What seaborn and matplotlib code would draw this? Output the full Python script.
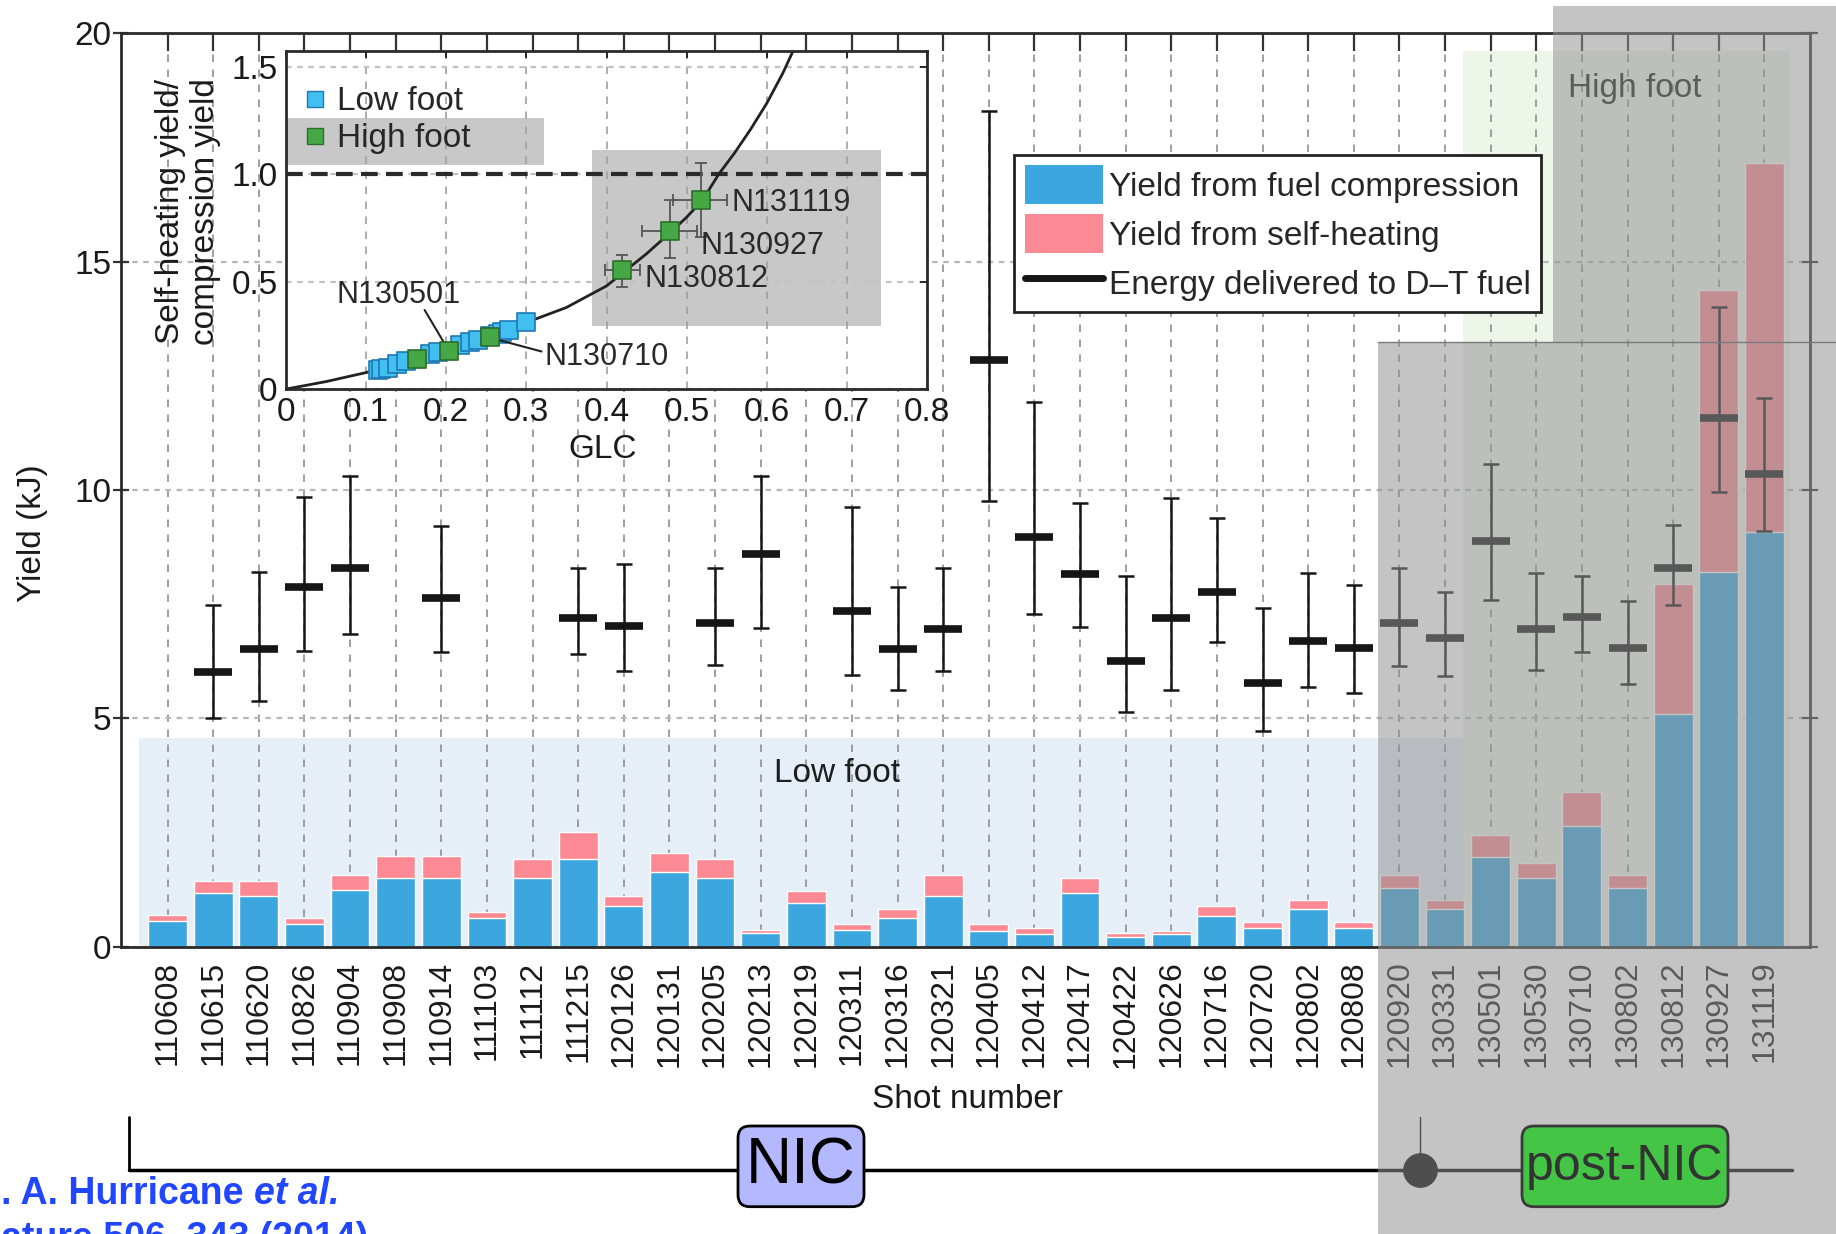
import numpy as np
import pandas as pd
import matplotlib
matplotlib.use("Agg")
import matplotlib.pyplot as plt
import seaborn as sns
from matplotlib.patches import Rectangle, Polygon, FancyBboxPatch, Patch
from matplotlib.lines import Line2D
from matplotlib.transforms import IdentityTransform

# ---------------- data ----------------
shots = ["110608", "110615", "110620", "110826", "110904", "110908", "110914",
         "111103", "111112", "111215", "120126", "120131", "120205", "120213",
         "120219", "120311", "120316", "120321", "120405", "120412", "120417",
         "120422", "120626", "120716", "120720", "120802", "120808", "120920",
         "130331", "130501", "130530", "130710", "130802", "130812", "130927",
         "131119"]

# yield split (kJ)
compression_yield = [0.56, 1.17, 1.10, 0.50, 1.24, 1.50, 1.50, 0.62, 1.50, 1.91,
                     0.90, 1.64, 1.50, 0.29, 0.96, 0.37, 0.62, 1.10, 0.35, 0.28,
                     1.17, 0.21, 0.28, 0.68, 0.42, 0.82, 0.42, 1.29, 0.82, 1.97,
                     1.50, 2.65, 1.29, 5.09, 8.21, 9.08]
self_heating_yield = [0.13, 0.27, 0.34, 0.12, 0.33, 0.49, 0.49, 0.13, 0.41, 0.61,
                      0.20, 0.41, 0.41, 0.08, 0.27, 0.13, 0.20, 0.47, 0.14, 0.14,
                      0.34, 0.08, 0.07, 0.21, 0.13, 0.20, 0.13, 0.28, 0.20, 0.48,
                      0.34, 0.74, 0.28, 2.85, 6.17, 8.07]

# energy delivered to the D-T fuel (kJ) with its uncertainty range
nan = float("nan")
energy_dt = [nan, 6.02, 6.52, 7.87, 8.29, nan, 7.63, nan, nan, 7.20,
             7.02, nan, 7.08, 8.60, nan, 7.36, 6.52, 6.95, 12.85, 8.98,
             8.15, 6.26, 7.20, 7.76, 5.77, 6.70, 6.53, 7.08, 6.77, 8.89,
             6.96, 7.23, 6.53, 8.29, 11.58, 10.34]
energy_low = [nan, 5.00, 5.38, 6.47, 6.84, nan, 6.45, nan, nan, 6.40,
              6.04, nan, 6.17, 6.97, nan, 5.95, 5.62, 6.04, 9.76, 7.28,
              7.01, 5.13, 5.62, 6.67, 4.72, 5.68, 5.55, 6.15, 5.93, 7.59,
              6.06, 6.46, 5.75, 7.48, 9.95, 9.10]
energy_high = [nan, 7.48, 8.20, 9.85, 10.31, nan, 9.21, nan, nan, 8.29,
               8.37, nan, 8.29, 10.31, nan, 9.63, 7.87, 8.29, 18.30, 11.92,
               9.71, 8.12, 9.82, 9.38, 7.41, 8.19, 7.92, 8.29, 7.77, 10.57,
               8.19, 8.12, 7.58, 9.23, 14.00, 12.01]

# inset: self-heating / compression yield versus GLC
glc_model = [0.0, 0.05, 0.10, 0.15, 0.20, 0.25, 0.30, 0.35, 0.40, 0.42,
             0.45, 0.48, 0.50, 0.52, 0.54, 0.56, 0.58, 0.60, 0.62, 0.633]
ratio_model = [0.0, 0.035, 0.077, 0.13, 0.185, 0.24, 0.31, 0.38, 0.48, 0.54,
               0.63, 0.73, 0.80, 0.88, 1.00, 1.10, 1.21, 1.33, 1.47, 1.575]
low_foot_glc = [0.115, 0.119, 0.127, 0.138, 0.150, 0.180, 0.190, 0.217,
                0.230, 0.240, 0.255, 0.265, 0.270, 0.278, 0.300]
low_foot_ratio = [0.088, 0.093, 0.100, 0.116, 0.130, 0.163, 0.175, 0.203,
                  0.217, 0.228, 0.246, 0.258, 0.265, 0.275, 0.311]
high_foot_names = ["", "N130501", "N130710", "N130812", "N130927", "N131119"]
high_foot_glc = [0.163, 0.204, 0.255, 0.419, 0.479, 0.518]
high_foot_ratio = [0.140, 0.179, 0.241, 0.552, 0.734, 0.879]
# uncertainty ranges for N130812, N130927, N131119
hf_glc_lo = [0.398, 0.444, 0.483]
hf_glc_hi = [0.442, 0.513, 0.550]
hf_ratio_lo = [0.477, 0.609, 0.710]
hf_ratio_hi = [0.624, 0.880, 1.051]

legend_labels = ["Yield from fuel compression", "Yield from self-heating",
                 "Energy delivered to D\u2013T fuel"]

# ---------------- style ----------------
W, H = 1836, 1234
sns.set_style("white")
plt.rcParams["font.family"] = ["Liberation Sans", "DejaVu Sans"]
plt.rcParams["axes.linewidth"] = 2

BLUE = "#3ca6de"
PINK = "#fc8a94"
CYAN = "#40bff0"
GREEN = "#45a845"
INK = "#161616"

PIX = IdentityTransform()


def py(y):
    return H - y


df = pd.DataFrame({"shot": shots,
                   "compression": compression_yield,
                   "self_heating": self_heating_yield})
df["total"] = df["compression"] + df["self_heating"]

fig = plt.figure(figsize=(W / 100, H / 100), dpi=100)

# ---------------- main axes ----------------
ax = fig.add_axes([121 / W, 1 - 946.7 / H, (1810 - 121) / W, (946.7 - 33.3) / H])
ax.set_axisbelow(True)

ax.add_patch(Rectangle((-0.62, 0), 29.02, 4.56, facecolor="#e6eef7",
                       edgecolor="none", zorder=0.1))
ax.add_patch(Rectangle((28.4, 0), 7.16, 19.62, facecolor="#eef6ea",
                       edgecolor="none", zorder=0.1))

sns.barplot(data=df, x="shot", y="total", order=shots, color=PINK,
            saturation=1, width=0.85, errorbar=None, ax=ax, zorder=2)
sns.barplot(data=df, x="shot", y="compression", order=shots, color=BLUE,
            saturation=1, width=0.85, errorbar=None, ax=ax, zorder=2)

pos = np.arange(len(shots))
e = np.array(energy_dt, float)
lo = np.array(energy_low, float)
hi = np.array(energy_high, float)
m = ~np.isnan(e)
ax.errorbar(pos[m], e[m], yerr=[e[m] - lo[m], hi[m] - e[m]], fmt="none",
            ecolor=INK, elinewidth=1.8, capsize=6, capthick=1.8, zorder=3)
ax.plot(pos[m], e[m], ls="none", marker="_", ms=28, mew=5.5, color=INK, zorder=4)

ax.set_xlim(-1.02, 36.0)
ax.set_ylim(0, 20)
ax.set_yticks([0, 5, 10, 15, 20])
ax.set_xlabel("")
ax.set_ylabel("")
ax.grid(axis="x", color="#8f8f8f", lw=1.2, ls=(0, (4.5, 4.5)))
ax.grid(axis="y", color="#b8b8b8", lw=1.6, ls=(0, (2.5, 2.5)))
ax.tick_params(axis="x", bottom=False, top=True, direction="in", length=13,
               width=1.6, color="#333333", labelsize=23, labelrotation=90,
               pad=10, labelcolor="#1a1a1a")
ax.tick_params(axis="y", left=True, right=True, direction="inout", length=12,
               width=1.6, color="#333333", labelsize=24, pad=1,
               labelcolor="#1a1a1a")
for s in ax.spines.values():
    s.set_color("#2a2a2a")
    s.set_linewidth(2)

ax.text(14.67, 3.8, "Low foot", fontsize=24, ha="center", va="center",
        color="#1e1e1e", zorder=3)
ax.text(32.15, 18.8, "High foot", fontsize=24, ha="center", va="center",
        color="#1e1e1e", zorder=3)
ax.text(-0.0525, 0.453, "Yield (kJ)", transform=ax.transAxes, rotation=90,
        ha="center", va="center", fontsize=24, color="#1a1a1a")
fig.text(967, py(1100), "Shot number", transform=PIX, ha="center",
         va="center", fontsize=24, color="#1a1a1a")

handles = [Patch(facecolor=BLUE, edgecolor="none"),
           Patch(facecolor=PINK, edgecolor="none"),
           Line2D([], [], color=INK, lw=5)]
leg = ax.legend(handles, legend_labels, loc="upper left",
                bbox_to_anchor=(0.529, 0.867), fontsize=24, frameon=True,
                fancybox=False, edgecolor="#222222", framealpha=1,
                handlelength=2.35, handleheight=1.42, borderpad=0.31,
                labelspacing=0.3, handletextpad=0.18, borderaxespad=0)
leg.get_frame().set_linewidth(2)
leg.set_zorder(6)

# ---------------- inset ----------------
axin = fig.add_axes([286 / W, 1 - 389.1 / H, (927 - 286) / W, (389.1 - 50.7) / H])
axin.set_facecolor("white")
axin.set_axisbelow(True)
axin.set_xlim(0, 0.8)
axin.set_ylim(0, 1.575)
axin.add_patch(Rectangle((0.0, 1.043), 0.322, 0.218, facecolor="#c8c8c8",
                         edgecolor="none", zorder=0.1, clip_on=False))
axin.add_patch(Rectangle((0.3825, 0.296), 0.3595, 0.817, facecolor="#c8c8c8",
                         edgecolor="none", zorder=0.1))
axin.set_xticks(np.round(np.arange(0, 0.81, 0.1), 1))
axin.set_xticklabels(["0", "0.1", "0.2", "0.3", "0.4", "0.5", "0.6", "0.7", "0.8"])
axin.set_yticks([0, 0.5, 1.0, 1.5])
axin.set_yticklabels(["0", "0.5", "1.0", "1.5"])
axin.grid(axis="x", color="#a0a0a0", lw=1.2, ls=(0, (4.5, 4.5)))
axin.grid(axis="y", color="#c2c2c2", lw=1.6, ls=(0, (2.5, 2.5)))
axin.tick_params(direction="in", length=5, width=1.4, labelsize=24, pad=6,
                 top=True, right=True, labelcolor="#1a1a1a")
for s in axin.spines.values():
    s.set_color("#2a2a2a")
    s.set_linewidth(2)

axin.axhline(1.0, color="#2a2a2a", lw=3, ls=(0, (4, 2)), zorder=1.5)
sns.lineplot(x=glc_model, y=ratio_model, ax=axin, color="#222222", lw=2,
             zorder=2, sort=True)
sns.scatterplot(x=low_foot_glc, y=low_foot_ratio, ax=axin, marker="s", s=170,
                color=CYAN, edgecolor="#1f78b4", linewidth=1.2, zorder=3)
axin.errorbar(high_foot_glc[3:], high_foot_ratio[3:],
              xerr=[np.array(high_foot_glc[3:]) - np.array(hf_glc_lo),
                    np.array(hf_glc_hi) - np.array(high_foot_glc[3:])],
              yerr=[np.array(high_foot_ratio[3:]) - np.array(hf_ratio_lo),
                    np.array(hf_ratio_hi) - np.array(high_foot_ratio[3:])],
              fmt="none", ecolor="#555555", elinewidth=1.3, capsize=4,
              capthick=1.3, zorder=2.5)
sns.scatterplot(x=high_foot_glc, y=high_foot_ratio, ax=axin, marker="s", s=170,
                color=GREEN, edgecolor="#2b6e2b", linewidth=1.2, zorder=4)

lab_kw = dict(fontsize=22, color="#2a2a2a", va="center", zorder=5)
axin.text(0.556, 0.865, "N131119", ha="left", **lab_kw)
axin.text(0.5175, 0.666, "N130927", ha="left", **lab_kw)
axin.text(0.448, 0.511, "N130812", ha="left", **lab_kw)
axin.text(0.140, 0.438, "N130501", ha="center", **lab_kw)
axin.text(0.3226, 0.149, "N130710", ha="left", **lab_kw)
axin.plot([0.173, 0.199], [0.368, 0.205], color="#222222", lw=1.5, zorder=3.5)
axin.plot([0.319, 0.262], [0.175, 0.232], color="#222222", lw=1.5, zorder=3.5)

in_handles = [Line2D([], [], ls="none", marker="s", ms=12, mfc=CYAN, mec="#1f78b4"),
              Line2D([], [], ls="none", marker="s", ms=12, mfc=GREEN, mec="#2b6e2b")]
axin.legend(in_handles, ["Low foot", "High foot"], loc="upper left",
            bbox_to_anchor=(0.02, 0.895), frameon=False, fontsize=24,
            handletextpad=0.15, handlelength=1.0, labelspacing=0.18,
            borderaxespad=0, borderpad=0)

axin.text(-0.153, 0.525, "Self-heating yield/\ncompression yield",
          transform=axin.transAxes, rotation=90, ha="center", va="center",
          fontsize=24, linespacing=1.15, color="#1a1a1a")
axin.text(0.494, -0.178, "GLC", transform=axin.transAxes, ha="center",
          va="center", fontsize=24, color="#1a1a1a")

# ---------------- campaign timeline ----------------
fig.add_artist(Line2D([128.8, 1791.6], [py(1170)] * 2, transform=PIX,
                      color="black", lw=2.5, zorder=4))
fig.add_artist(Line2D([128.8, 128.8], [py(1116.7), py(1170)], transform=PIX,
                      color="black", lw=2, zorder=4))
fig.add_artist(Line2D([1420, 1420], [py(1116.7), py(1170)], transform=PIX,
                      color="black", lw=1, zorder=4))
fig.add_artist(Line2D([1420], [py(1170)], transform=PIX, marker="o", ms=24,
                      color="black", zorder=4))
fig.add_artist(FancyBboxPatch((738, py(1206.7)), 126, 80.7,
                              boxstyle="round,pad=0,rounding_size=12",
                              facecolor="#b3b8ff", edgecolor="black", lw=2,
                              transform=PIX, zorder=4.5))
fig.text(801, py(1166.5), "NIC", transform=PIX, fontsize=46, ha="center",
         va="center", color="black", zorder=4.6)

# shaded overlay marking the post-NIC period
overlay = [(1553, py(6)), (W + 5, py(6)), (W + 5, -5), (1377.7, -5),
           (1377.7, py(341.7)), (1553, py(341.7))]
fig.add_artist(Polygon(overlay, closed=True, transform=PIX, facecolor="#929292",
                       alpha=0.54, edgecolor="none", zorder=5))
fig.add_artist(Line2D([1377.7, W], [py(341.7)] * 2, transform=PIX,
                      color="#7a7a7a", lw=1, zorder=5.1))

fig.add_artist(FancyBboxPatch((1522, py(1206.7)), 206, 80.7,
                              boxstyle="round,pad=0,rounding_size=12",
                              facecolor="#45c545", edgecolor="#3a3a3a", lw=2,
                              transform=PIX, zorder=6))
fig.text(1625, py(1166.5), "post-NIC", transform=PIX, fontsize=36,
         ha="center", va="center", color="#333333", zorder=6.1)

# ---------------- reference ----------------
cite_kw = dict(transform=PIX, fontsize=27, fontweight="bold", color="#2146ff",
               va="center", ha="left", zorder=4)
t1 = fig.text(-28, py(1193.5), "O. A. Hurricane ", **cite_kw)
renderer = fig.canvas.get_renderer()
bb = t1.get_window_extent(renderer=renderer)
fig.text(bb.x1, py(1193.5), "et al.", fontstyle="italic", **cite_kw)
fig.text(-26, py(1221), "Nature 506, 343 (2014)",
         **{**cite_kw, "va": "top"})

fig.savefig("out.png", dpi=100)
